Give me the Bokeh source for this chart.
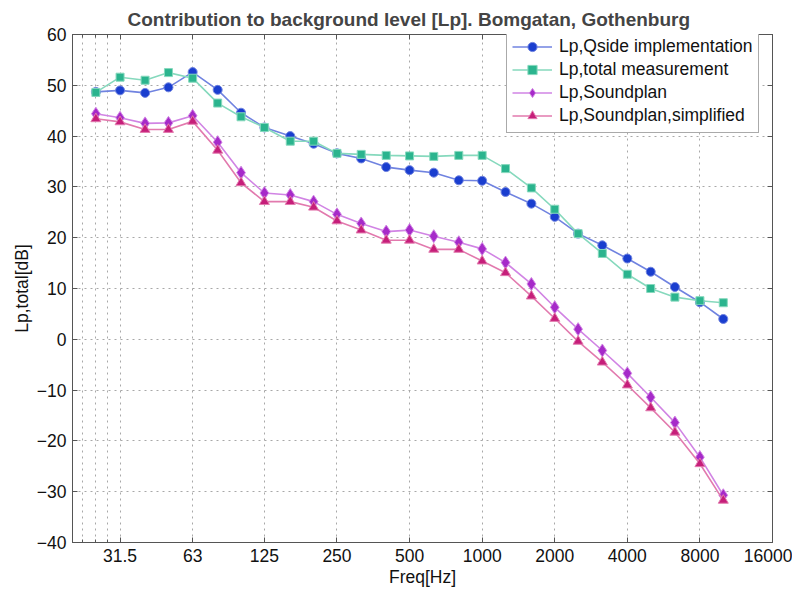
from bokeh.plotting import figure
from bokeh.models import (FixedTicker, LinearAxis, LogAxis, Legend, LegendItem,
                          Range1d, ColumnDataSource)
from bokeh.embed import file_html
from bokeh.resources import INLINE

# ---- data ----
freq = [25, 31.5, 40, 50, 63, 80, 100, 125, 160, 200, 250, 315, 400, 500, 630,
        800, 1000, 1250, 1600, 2000, 2500, 3150, 4000, 5000, 6300, 8000, 10000]
qside = [48.7, 49.0, 48.5, 49.6, 52.6, 49.1, 44.6, 41.7, 40.0, 38.5, 36.6, 35.6,
         33.9, 33.3, 32.8, 31.3, 31.2, 29.0, 26.7, 24.1, 20.8, 18.5, 15.9, 13.3,
         10.3, 7.3, 4.0]
total = [48.6, 51.6, 51.0, 52.5, 51.4, 46.5, 43.8, 41.7, 39.0, 39.0, 36.6, 36.4,
         36.2, 36.1, 36.0, 36.2, 36.2, 33.6, 29.8, 25.6, 20.8, 16.9, 12.8, 10.0,
         8.3, 7.6, 7.2]
soundplan = [44.4, 43.6, 42.5, 42.6, 44.0, 38.8, 32.8, 28.8, 28.4, 27.1, 24.6,
             22.8, 21.2, 21.5, 20.3, 19.1, 17.8, 15.1, 10.9, 6.3, 2.0, -2.2, -6.7,
             -11.4, -16.4, -23.2, -30.7]
simplified = [43.4, 42.8, 41.3, 41.3, 42.9, 37.2, 30.8, 27.1, 27.1, 26.0, 23.3,
              21.5, 19.5, 19.5, 17.7, 17.7, 15.4, 13.1, 8.5, 4.1, -0.4, -4.5, -9.0,
              -13.5, -18.3, -24.5, -31.7]

series_names = ["Lp,Qside implementation", "Lp,total measurement",
                "Lp,Soundplan", "Lp,Soundplan,simplified"]

xticks = [31.5, 63, 125, 250, 500, 1000, 2000, 4000, 8000, 16000]
xtick_labels = ["31.5", "63", "125", "250", "500", "1000", "2000", "4000", "8000", "16000"]
x_minor = [22, 25, 28]
yticks = [-40, -30, -20, -10, 0, 10, 20, 30, 40, 50, 60]
ytick_labels = ["\u221240", "\u221230", "\u221220", "\u221210", "0", "10", "20",
                "30", "40", "50", "60"]

FONT = "Liberation Sans, Arial, Helvetica, sans-serif"

src = ColumnDataSource(dict(f=freq, q=qside, t=total, s=soundplan, ss=simplified))

p = figure(width=792, height=589, x_axis_type="log",
           x_range=Range1d(20, 16000), y_range=Range1d(-40, 60),
           output_backend="svg", toolbar_location=None,
           min_border_left=72, min_border_right=20, min_border_top=34,
           min_border_bottom=46)

p.title.text = "Contribution to background level [Lp]. Bomgatan, Gothenburg"
p.title.align = "left"
p.title.offset = 55
p.title.text_font = FONT
p.title.text_font_size = "19px"
p.title.text_font_style = "bold"
p.title.standoff = 9

xt = FixedTicker(ticks=xticks, minor_ticks=x_minor)
yt = FixedTicker(ticks=yticks, minor_ticks=[])

bottom_ax = p.xaxis[0]
left_ax = p.yaxis[0]

def style_axis(ax, ticker, labels, show_labels):
    ax.ticker = ticker
    ax.major_tick_in = 5
    ax.major_tick_out = 0
    ax.minor_tick_in = 3
    ax.minor_tick_out = 0
    ax.axis_line_color = "#555555"
    ax.major_tick_line_color = "#555555"
    ax.minor_tick_line_color = "#555555"
    ax.major_label_text_font = FONT
    ax.major_label_text_font_size = "17.5px"
    ax.major_label_text_color = "#111111"
    ax.major_label_standoff = 6
    if show_labels:
        ax.major_label_overrides = dict(zip(ticker.ticks, labels))
    else:
        ax.major_label_overrides = {t: "" for t in ticker.ticks}
        ax.major_label_standoff = 0

style_axis(bottom_ax, xt, xtick_labels, True)
style_axis(left_ax, yt, ytick_labels, True)
left_ax.minor_tick_line_color = None

top_ax = LogAxis()
style_axis(top_ax, xt, xtick_labels, False)
p.add_layout(top_ax, "above")
right_ax = LinearAxis()
style_axis(right_ax, yt, ytick_labels, False)
right_ax.minor_tick_line_color = None
p.add_layout(right_ax, "right")

bottom_ax.axis_label = "Freq[Hz]"
left_ax.axis_label = "Lp,total[dB]"
for ax in (bottom_ax, left_ax):
    ax.axis_label_text_font = FONT
    ax.axis_label_text_font_size = "17.5px"
    ax.axis_label_text_font_style = "normal"
    ax.axis_label_text_color = "#111111"
    ax.axis_label_standoff = 2

p.xgrid.ticker = xt
p.ygrid.ticker = yt
p.xgrid.grid_line_color = "#a8a8a8"
p.xgrid.grid_line_dash = "2 4"
p.xgrid.minor_grid_line_color = "#a8a8a8"
p.xgrid.minor_grid_line_dash = "2 4"
p.ygrid.grid_line_color = "#a8a8a8"
p.ygrid.grid_line_dash = "2 4"
p.outline_line_color = "#555555"

specs = [
    ("q", "circle", 9, "#1a3ecf", "#7083e0"),
    ("t", "square", 8, "#2bb48e", "#86d9bd"),
    ("s", "diamond", 13, "#a62ac9", "#d184e4"),
    ("ss", "triangle", 10, "#c61e7a", "#e27aae"),
]

items = []
for name, (col, marker, size, mc, lc) in zip(series_names, specs):
    rl = p.line("f", col, source=src, line_color=lc, line_width=1.6)
    rs = p.scatter("f", col, source=src, marker=marker, size=size,
                   fill_color=mc, line_color=lc, line_width=1)
    items.append(LegendItem(label=name, renderers=[rl, rs]))

legend = Legend(items=items, location=(434, 409))
legend.label_text_font = FONT
legend.label_text_font_size = "17.5px"
legend.label_text_color = "#111111"
legend.glyph_width = 40
legend.glyph_height = 23
legend.label_height = 23
legend.spacing = 0
legend.padding = 5
legend.margin = 0
legend.label_standoff = 7
legend.border_line_color = "#555555"
legend.border_line_width = 1
legend.background_fill_color = "white"
legend.background_fill_alpha = 1
p.add_layout(legend)

open("out.html", "w").write(file_html(p, INLINE))
